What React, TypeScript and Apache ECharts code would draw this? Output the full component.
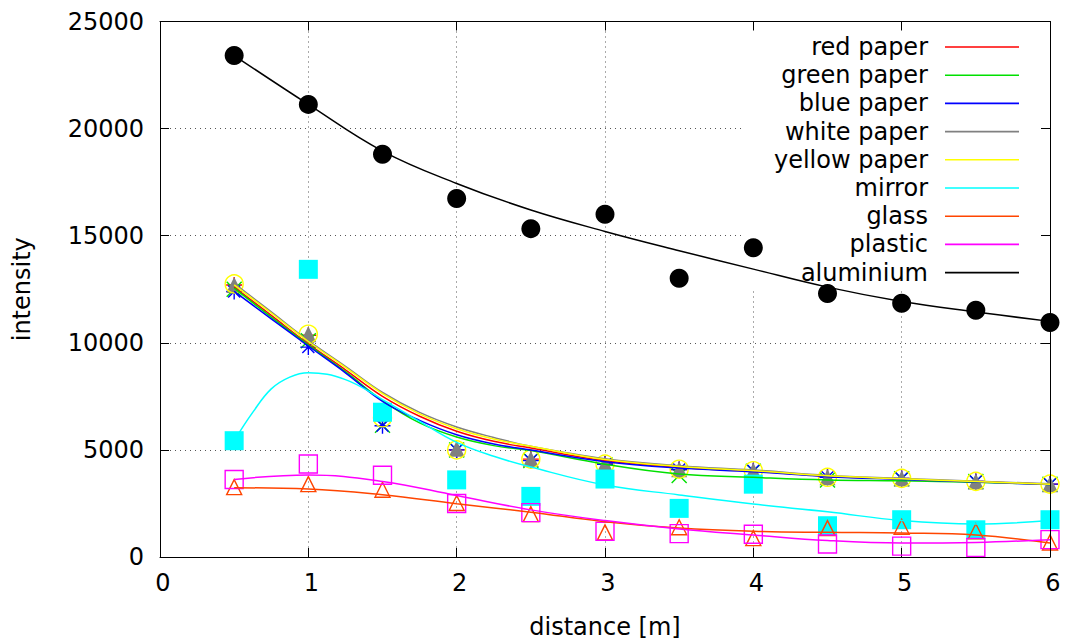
import React, { useEffect, useRef } from 'react';
import * as echarts from 'echarts';

// ---- data ----
const distances = [0.5, 1, 1.5, 2, 2.5, 3, 3.5, 4, 4.5, 5, 5.5, 6];

const redPaperPoints = [12700, 10350, 6600, 5000, 4570, 4340, 4080, 4030, 3720, 3670, 3530, 3400];
const greenPaperPoints = [12500, 10100, 6150, 5000, 4500, 4300, 3800, 4000, 3600, 3650, 3520, 3400];
const bluePaperPoints = [12400, 9800, 6130, 5000, 4500, 4330, 4080, 4030, 3720, 3670, 3530, 3400];
const whitePaperPoints = [12700, 10400, 6700, 5050, 4570, 4340, 4100, 4030, 3720, 3670, 3530, 3400];
const yellowPaperPoints = [12750, 10400, 6500, 5000, 4570, 4340, 4100, 4030, 3720, 3670, 3530, 3400];
const mirrorPoints = [5430, 13430, 6760, 3600, 2830, 3640, 2270, 3400, 1460, 1740, 1270, 1740];
const glassPoints = [3260, 3400, 3140, 2520, 2000, 1150, 1390, 880, 1350, 1410, 1200, 680];
const plasticPoints = [3620, 4340, 3820, 2500, 2070, 1200, 1090, 1060, 610, 510, 450, 810];
const aluminiumPoints = [23410, 21130, 18800, 16740, 15330, 16000, 13010, 14440, 12300, 11850, 11520, 10950];

// fitted curves
const paperFitX = [0.5, 0.75, 1, 1.25, 1.5, 1.75, 2, 2.25, 2.5, 3, 3.5, 4, 4.5, 5, 5.5, 6];
const redPaperFit = [12600, 11280, 9950, 8740, 7500, 6570, 5870, 5400, 5090, 4500, 4180, 4000, 3770, 3640, 3510, 3400];
const greenPaperFit = [12550, 11200, 9900, 8650, 7300, 6260, 5600, 5200, 4970, 4330, 3870, 3720, 3600, 3560, 3490, 3390];
const bluePaperFit = [12400, 11120, 9850, 8600, 7270, 6380, 5710, 5280, 4990, 4450, 4150, 3980, 3750, 3620, 3500, 3380];
const whitePaperFit = [12780, 11440, 10100, 8900, 7680, 6750, 6070, 5580, 5170, 4590, 4260, 4060, 3810, 3670, 3540, 3420];
const yellowPaperFit = [12700, 11390, 10060, 8850, 7630, 6680, 5990, 5510, 5170, 4550, 4230, 4030, 3790, 3650, 3520, 3400];
const mirrorFitX = [0.5, 0.625, 0.75, 0.875, 1, 1.25, 1.5, 1.75, 2, 2.25, 2.5, 3, 3.5, 4, 4.5, 5, 5.5, 6];
const mirrorFit = [5430, 6750, 7850, 8400, 8600, 8280, 7350, 6330, 5350, 4700, 4200, 3360, 2900, 2470, 2110, 1700, 1540, 1700];
const glassFit = [3230, 3180, 2910, 2490, 2090, 1650, 1350, 1200, 1150, 1120, 1030, 650];
const plasticFit = [3620, 3830, 3530, 2870, 2200, 1700, 1310, 1030, 770, 650, 680, 810];
const aluminiumFit = [23410, 21130, 18950, 17440, 16200, 15200, 14300, 13440, 12600, 11930, 11440, 11000];

const materialNames = ['red paper', 'green paper', 'blue paper', 'white paper', 'yellow paper', 'mirror', 'glass', 'plastic', 'aluminium'];
const materialColors = ['#ff0000', '#00e000', '#0000ff', '#808080', '#ffff00', '#00ffff', '#ff4500', '#ff00ff', '#000000'];

const xMin = 0, xMax = 6, xInterval = 1;
const yMin = 0, yMax = 25000, yInterval = 5000;
const xTitle = 'distance [m]';
const yTitle = 'intensity';

const FONT = 'DejaVu Sans';

const PLUS = 'path://M0,8L16,8M8,0L8,16';
const CROSS = 'path://M0,0L16,16M16,0L0,16';
const STAR = 'path://M0,8L16,8M8,0L8,16M2,2L14,14M14,2L2,14';

export default function App() {
  const ref = useRef<HTMLDivElement>(null);
  useEffect(() => {
    if (!ref.current) return;
    const chart = echarts.init(ref.current, undefined, { renderer: 'svg' });

    const pts = (vals: number[]) => distances.map((x, i) => [x, vals[i]]);
    const clear = 'rgba(0,0,0,0)';

    const pointSpecs: any[] = [
      { vals: redPaperPoints, c: 0, symbol: PLUS, size: 16, stroke: true },
      { vals: greenPaperPoints, c: 1, symbol: CROSS, size: 15, stroke: true },
      { vals: bluePaperPoints, c: 2, symbol: STAR, size: 16, stroke: true },
      { vals: whitePaperPoints, c: 3, symbol: 'triangle', size: 16, stroke: false },
      { vals: yellowPaperPoints, c: 4, symbol: 'circle', size: 18, stroke: true },
      { vals: mirrorPoints, c: 5, symbol: 'rect', size: 19, stroke: false },
      { vals: glassPoints, c: 6, symbol: 'triangle', size: 15, stroke: true },
      { vals: plasticPoints, c: 7, symbol: 'rect', size: 18, stroke: true },
      { vals: aluminiumPoints, c: 8, symbol: 'circle', size: 19, stroke: false },
    ];

    const pointSeries = pointSpecs.map((p) => ({
      type: 'scatter',
      name: materialNames[p.c] + ' data',
      data: pts(p.vals),
      symbol: p.symbol,
      symbolSize: p.size,
      z: 2,
      silent: true,
      itemStyle: p.stroke
        ? { color: clear, borderColor: materialColors[p.c], borderWidth: 1.4, opacity: 1 }
        : { color: materialColors[p.c], borderWidth: 0, opacity: 1 },
    }));

    const fits = [redPaperFit, greenPaperFit, bluePaperFit, whitePaperFit, yellowPaperFit, mirrorFit, glassFit, plasticFit, aluminiumFit];
    const lineSeries = fits.map((vals, i) => {
      const xs = vals === mirrorFit ? mirrorFitX : i < 5 ? paperFitX : distances;
      return {
        type: 'line',
        name: materialNames[i],
        data: xs.map((x, k) => [x, vals[k]]),
        showSymbol: false,
        symbol: 'none',
        smooth: 0.4,
        z: 3,
        silent: true,
        color: materialColors[i],
        lineStyle: { color: materialColors[i], width: 1.5 },
        itemStyle: { color: materialColors[i] },
      };
    });

    const gridLine = { show: true, lineStyle: { color: '#555', width: 1, type: [1, 4] } };
    const labelStyle = { fontFamily: FONT, fontSize: 24, color: '#000' };

    chart.setOption({
      animation: false,
      backgroundColor: '#fff',
      textStyle: { fontFamily: FONT },
      grid: { left: 160, right: 18, top: 21.5, bottom: 86.5, containLabel: false },
      graphic: [
        {
          type: 'rect',
          z: 1,
          silent: true,
          shape: { x: 743, y: 22.5, width: 306.5, height: 265.5 },
          style: { fill: '#fff' },
        },
      ],
      legend: {
        orient: 'vertical',
        right: 49,
        top: 33,
        padding: 0,
        align: 'right',
        icon: 'rect',
        itemWidth: 74,
        itemHeight: 1.6,
        itemGap: 0.2,
        selectedMode: false,
        data: materialNames,
        textStyle: { fontFamily: FONT, fontSize: 24, color: '#000', lineHeight: 28, padding: [0, 12, 0, 0] },
      },
      xAxis: [
        {
          type: 'value', min: xMin, max: xMax, interval: xInterval, position: 'bottom',
          name: xTitle, nameLocation: 'middle', nameGap: 58,
          nameTextStyle: labelStyle,
          axisLine: { show: true, lineStyle: { color: '#000', width: 1 } },
          axisTick: { show: true, inside: true, length: 9, lineStyle: { color: '#000' } },
          axisLabel: { ...labelStyle, margin: 14, padding: [0, 0, 0, 6], formatter: (v: number) => String(v) },
          splitLine: gridLine,
        },
        {
          type: 'value', min: xMin, max: xMax, interval: xInterval, position: 'top', z: 3,
          axisLine: { show: true, onZero: false, lineStyle: { color: '#000', width: 1 } },
          axisTick: { show: true, inside: true, length: 9, lineStyle: { color: '#000' } },
          axisLabel: { show: false },
          splitLine: { show: false },
        },
      ],
      yAxis: [
        {
          type: 'value', min: yMin, max: yMax, interval: yInterval, position: 'left',
          name: yTitle, nameLocation: 'middle', nameGap: 126, nameRotate: 90,
          nameTextStyle: labelStyle,
          axisLine: { show: true, lineStyle: { color: '#000', width: 1 } },
          axisTick: { show: true, inside: true, length: 9, lineStyle: { color: '#000' } },
          axisLabel: { ...labelStyle, margin: 16, formatter: (v: number) => String(v) },
          splitLine: gridLine,
        },
        {
          type: 'value', min: yMin, max: yMax, interval: yInterval, position: 'right', z: 3,
          axisLine: { show: true, onZero: false, lineStyle: { color: '#000', width: 1 } },
          axisTick: { show: true, inside: true, length: 9, lineStyle: { color: '#000' } },
          axisLabel: { show: false },
          splitLine: { show: false },
        },
      ],
      series: [...pointSeries, ...lineSeries],
    });

    return () => chart.dispose();
  }, []);

  return (
    <div
      ref={ref}
      style={{ position: 'fixed', left: 0, top: 0, width: 1068, height: 644, background: '#fff' }}
    />
  );
}
